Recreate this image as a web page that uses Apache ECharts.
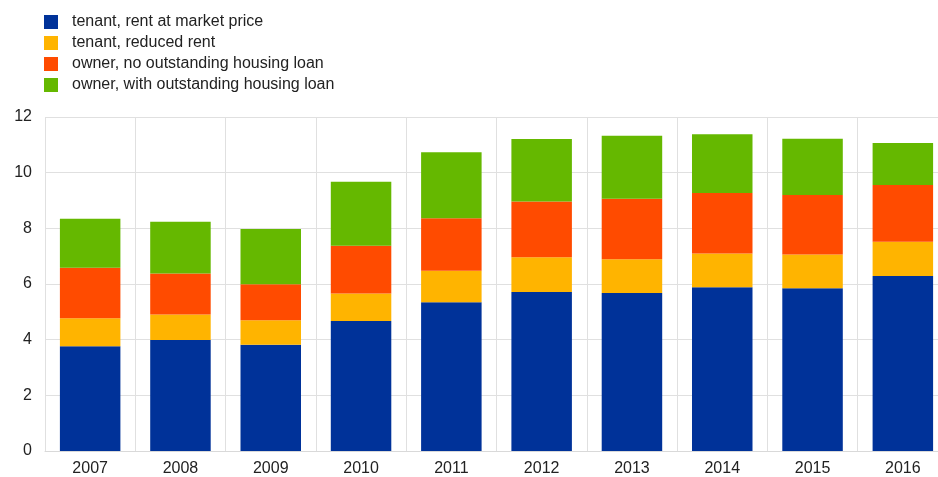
<!DOCTYPE html>
<html><head><meta charset="utf-8">
<script src="https://cdn.jsdelivr.net/npm/echarts@6/dist/echarts.min.js"></script>
<style>html,body{margin:0;padding:0;background:#fff}#c{width:938px;height:477px}</style>
</head><body><div id="c"></div>
<script>
var categories = ['2007','2008','2009','2010','2011','2012','2013','2014','2015','2016'];
var seriesNames = ['tenant, rent at market price','tenant, reduced rent','owner, no outstanding housing loan','owner, with outstanding housing loan'];
var tenantMarket = [3.76, 3.99, 3.82, 4.67, 5.34, 5.71, 5.68, 5.88, 5.85, 6.29];
var tenantReduced = [1.01, 0.91, 0.88, 0.99, 1.14, 1.25, 1.21, 1.22, 1.21, 1.23];
var ownerNoLoan = [1.81, 1.48, 1.29, 1.71, 1.88, 2.00, 2.17, 2.17, 2.14, 2.04];
var ownerWithLoan = [1.76, 1.86, 1.99, 2.30, 2.37, 2.25, 2.27, 2.11, 2.02, 1.51];
var yTicks = [0, 2, 4, 6, 8, 10, 12];
var colors = ['#003299', '#FFB400', '#FF4B00', '#65B800'];
var dataSets = [tenantMarket, tenantReduced, ownerNoLoan, ownerWithLoan];

var chart = echarts.init(document.getElementById('c'));
chart.setOption({
  animation: false,
  color: colors,
  textStyle: {fontFamily: 'Liberation Sans, Arial, sans-serif'},
  legend: {
    orient: 'vertical', left: 39, top: 9,
    itemWidth: 14, itemHeight: 14, itemGap: 5,
    icon: 'rect',
    textStyle: {fontSize: 16, color: '#222', padding: [0, 0, 0, 9], lineHeight: 14},
    data: seriesNames
  },
  grid: {left: 45, right: -10, top: 117, bottom: 26, outerBoundsMode: 'none', containLabel: false},
  xAxis: {
    type: 'category', data: categories,
    axisLine: {show: true, lineStyle: {color: '#d9d9d9', width: 1}},
    axisTick: {show: false},
    splitLine: {show: true, lineStyle: {color: '#e0e0e0', width: 1}},
    axisLabel: {fontSize: 16, color: '#222', margin: 10, interval: 0}
  },
  yAxis: {
    type: 'value', min: yTicks[0], max: yTicks[yTicks.length - 1], interval: 2,
    axisLine: {show: false}, axisTick: {show: false},
    splitLine: {show: true, lineStyle: {color: '#e0e0e0', width: 1}},
    axisLabel: {fontSize: 16, color: '#222', margin: 13}
  },
  series: seriesNames.map(function (n, i) {
    return {name: n, type: 'bar', stack: 'total', data: dataSets[i], barCategoryGap: '33%'};
  })
});
</script></body></html>
